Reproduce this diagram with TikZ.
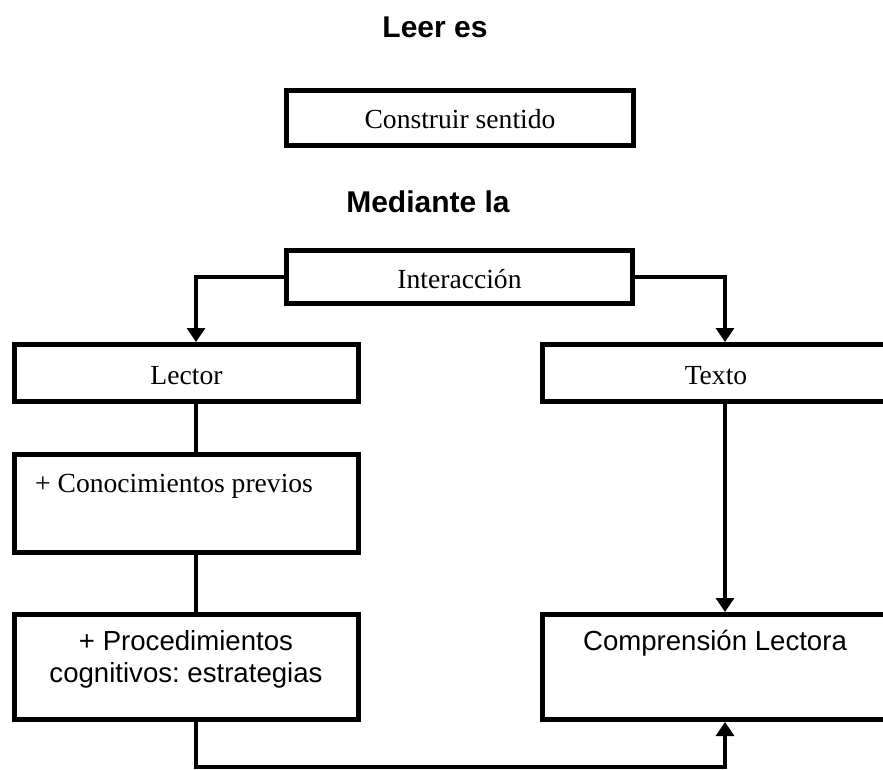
\documentclass[tikz,border=0pt]{standalone}
\usepackage{fontspec}
\setmainfont{Liberation Serif}
\newfontfamily\arialfont{Liberation Sans}
\usetikzlibrary{arrows.meta}
\frenchspacing
\begin{document}
\begin{tikzpicture}[x=1pt,y=-1pt,
  box/.style={draw=black, line width=5pt, rectangle, inner sep=0pt,
    text height=22pt, text depth=0pt,
    font=\fontsize{27.6}{32}\selectfont},
  conn/.style={draw=black, line width=3.2pt},
  arr/.style={conn, -{Triangle[width=18pt,length=14pt]}},
  head/.style={inner sep=0pt, anchor=base, font=\arialfont\bfseries\fontsize{30}{34}\selectfont},
  sertext/.style={inner sep=0pt, font=\fontsize{27.6}{32}\selectfont},
  santext/.style={inner sep=0pt, align=center, font=\arialfont\fontsize{27.6}{32.5}\selectfont}]
\useasboundingbox (0,0) rectangle (883,770);
\fill[white] (0,0) rectangle (883,770);

\node[head] (leer) at (435,38) {Leer es};
\node[box, minimum width=347pt, minimum height=55pt] (cons) at (460,118) {Construir sentido};
\node[head] (mediante) at (428,212) {Mediante la};
\node[box, minimum width=346pt, minimum height=53pt] (inter) at (459.5,277) {Interacción};
\node[box, minimum width=344pt, minimum height=57pt] (lector) at (186.5,373) {Lector};
\node[box, minimum width=347pt, minimum height=57pt] (texto) at (716,373) {Texto};
\node[box, minimum width=344pt, minimum height=98pt] (conoc) at (186.5,503.5) {};
\node[sertext, anchor=base west] (conoctxt) at (35,492) {+ Conocimientos previos};
\node[box, minimum width=344pt, minimum height=105pt] (proc) at (186.5,667) {};
\node[santext, anchor=north] (proctxt) at (186,630) {+ Procedimientos\\cognitivos: estrategias};
\node[box, minimum width=347pt, minimum height=105pt] (comp) at (716,667) {};
\node[santext, anchor=base] (comptxt) at (715,650) {Comprensión Lectora};

\draw[arr] (inter.west) -| ([xshift=9.5pt]lector.north);
\draw[arr] (inter.east) -| ([xshift=9pt]texto.north);
\draw[conn] ([xshift=9.5pt]lector.south) -- ([xshift=9.5pt]conoc.north);
\draw[conn] ([xshift=9.5pt]conoc.south) -- ([xshift=9.5pt]proc.north);
\draw[arr] ([xshift=9pt]texto.south) -- ([xshift=9pt]comp.north);
\coordinate (bend) at (196,767);
\draw[arr] ([xshift=9.5pt]proc.south) -- (bend) -| ([xshift=9pt]comp.south);
\end{tikzpicture}
\end{document}
